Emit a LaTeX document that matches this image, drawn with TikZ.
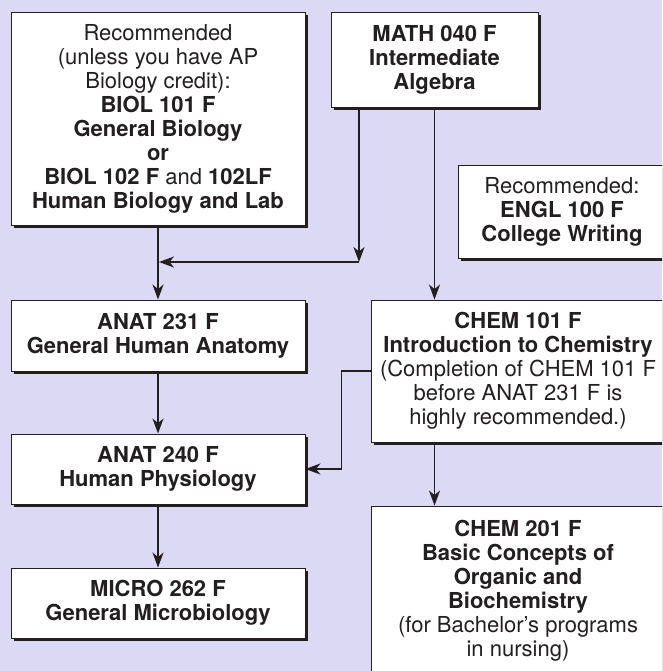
\documentclass[tikz,border=0pt]{standalone}
\usepackage{fontspec}
\setmainfont{TeX Gyre Heros}
\usepackage{xcolor}
\usepackage{tikz}
\usetikzlibrary{shapes,arrows.meta}

\definecolor{bgColor}{RGB}{219,217,243}
\definecolor{inkColor}{RGB}{35,31,32}

\begin{document}
\begin{tikzpicture}[x=1pt,y=-1pt,
  course/.style={draw=inkColor,line width=0.9pt,fill=white,align=center,inner sep=0pt,
    text=inkColor,font=\fontsize{22}{24}\selectfont},
  link/.style={line width=1.8pt,color=inkColor},
  >={Stealth[length=15pt,width=11pt,inset=4.5pt]}]
\useasboundingbox (0,0) rectangle (662,671);
\fill[bgColor] (0,0) rectangle (662,671);
\clip (0,0) rectangle (662,671);
\foreach \xa/\ya/\xb/\yb in {11/12/305/225, 331/12/538/107, 458/165/666/258, 11/300/305/371, 371/300/665/442, 11/434/305/504, 11/568/305/638, 371/506/665/676}
  \fill[inkColor] (\xa+3,\ya+3) rectangle (\xb+3,\yb+3);
\node[course,minimum width=294pt,minimum height=213pt] (biol) at (158,118.5) {Recommended\\(unless you have AP\\Biology credit):\\\textbf{BIOL 101 F}\\\textbf{General Biology}\\\textbf{or}\\\textbf{BIOL 102 F} and \textbf{102LF}\\\textbf{Human Biology and Lab}};
\node[course,minimum width=207pt,minimum height=95pt] (math) at (434.5,59.5) {\textbf{MATH 040 F}\\\textbf{Intermediate}\\\textbf{Algebra}};
\node[course,minimum width=208pt,minimum height=93pt] (engl) at (562,211.5) {Recommended:\\\textbf{ENGL 100 F}\\\textbf{College Writing}};
\node[course,minimum width=294pt,minimum height=71pt] (anat231) at (158,335.5) {\textbf{ANAT 231 F}\\\textbf{General Human Anatomy}};
\node[course,minimum width=294pt,minimum height=142pt] (chem101) at (518,371) {\textbf{CHEM 101 F}\\\textbf{Introduction to Chemistry}\\(Completion of CHEM 101 F\\before ANAT 231 F is\\highly recommended.)};
\node[course,minimum width=294pt,minimum height=70pt] (anat240) at (158,469) {\textbf{ANAT 240 F}\\\textbf{Human Physiology}};
\node[course,minimum width=294pt,minimum height=70pt] (micro) at (158,603) {\textbf{MICRO 262 F}\\\textbf{General Microbiology}};
\node[course,minimum width=294pt,minimum height=170pt] (chem201) at (518,591) {\textbf{CHEM 201 F}\\\textbf{Basic Concepts of}\\\textbf{Organic and}\\\textbf{Biochemistry}\\(for Bachelor’s programs\\in nursing)};
\coordinate (join) at (359,262);
\draw[link,->] (biol.south) -- (anat231.north);
\draw[link,->] (math.south -| join) -- (join);
\draw[link,->] (join) -- ([xshift=1pt]join -| biol.south);
\draw[link,->] (math.south) -- (math.south |- chem101.north);
\draw[link,->] (anat231.south) -- (anat240.north);
\draw[link,->] (chem101.west) -- ++(-29,0) |- (anat240.east);
\draw[link,->] (anat240.south) -- (micro.north);
\draw[link,->] (chem101.south -| math.south) -- (chem201.north -| math.south);
\end{tikzpicture}
\end{document}
